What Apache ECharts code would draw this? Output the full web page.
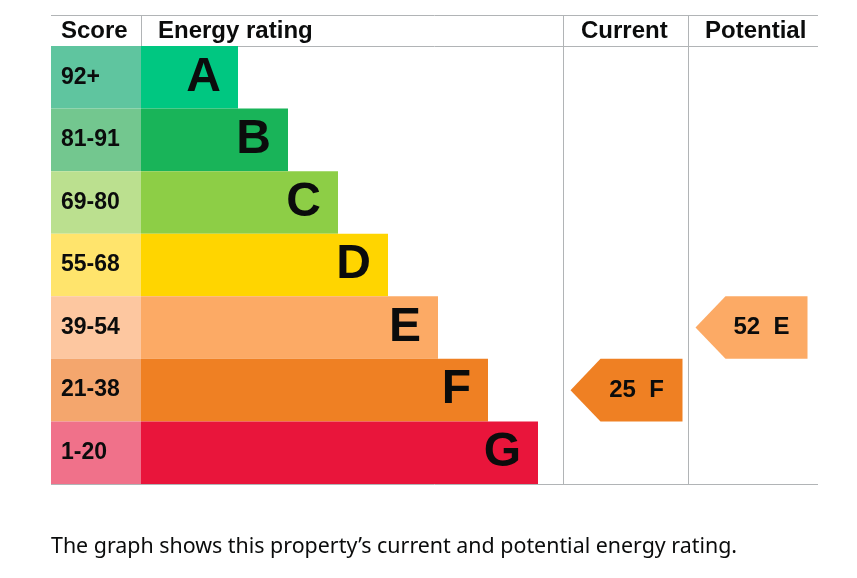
<!DOCTYPE html>
<html>
<head>
<meta charset="utf-8">
<script src="https://cdn.jsdelivr.net/npm/echarts@6/dist/echarts.min.js"></script>
<style>
html,body{margin:0;padding:0;background:#fff;}
#chart{width:857px;height:578px;}
</style>
</head>
<body>
<div id="chart"></div>
<script>
// ---- data ----
const bands = ['A', 'B', 'C', 'D', 'E', 'F', 'G'];
const scoreRanges = ['92+', '81-91', '69-80', '55-68', '39-54', '21-38', '1-20'];
const barLengths = [2, 3, 4, 5, 6, 7, 8];
const bandColors = ['#00c781', '#19b459', '#8dce46', '#ffd500', '#fcaa65', '#ef8023', '#e9153b'];
const scoreColors = ['#5fc59f', '#73c78f', '#bbe08f', '#ffe46c', '#fdc7a0', '#f4a66d', '#f0718a'];
const headers = ['Score', 'Energy rating', 'Current', 'Potential'];
const currentScore = 25, currentBand = 'F';
const potentialScore = 52, potentialBand = 'E';
const caption = 'The graph shows this property\u2019s current and potential energy rating.';

const TXT = '#0b0c0c';
const LINE = '#b1b4b6';
const FONT = '"Liberation Sans", Arial, sans-serif';

const chart = echarts.init(document.getElementById('chart'), null, {renderer: 'canvas'});

const gridTop = 46, gridBottom = 578 - 484;
function catY(idx) {
  return {type: 'category', data: bands, inverse: true, gridIndex: idx, show: false};
}
function valX(idx, min, max) {
  return {type: 'value', min: min, max: max, gridIndex: idx, show: false};
}

function arrowItem(params, api) {
  const c = api.coord([0, api.value(1)]);
  const h = api.size([0, 1])[1];
  const x0 = params.coordSys.x + 7.5;
  const w = 112, tip = 30;
  const cy = c[1];
  const y0 = cy - h / 2, y1 = cy + h / 2;
  const col = bandColors[api.value(1)];
  return {
    type: 'group',
    children: [
      {type: 'polygon', shape: {points: [[x0, cy], [x0 + tip, y0], [x0 + w, y0], [x0 + w, y1], [x0 + tip, y1]]},
       style: {fill: col}},
      {type: 'text', x: x0 + 66, y: cy,
       style: {text: api.value(2) + '  ' + bands[api.value(1)], fill: TXT, font: 'bold 24px ' + FONT,
               align: 'center', verticalAlign: 'middle'}}
    ]
  };
}

const lines = [
  [51, 15.5, 818, 15.5],
  [51, 46.5, 818, 46.5],
  [141.5, 15, 141.5, 46],
  [563.5, 15, 563.5, 484],
  [688.5, 15, 688.5, 484],
  [51, 484.5, 818, 484.5]
];
const headerX = [61, 158, 581, 705];

const graphics = lines.map(l => ({
  type: 'line', shape: {x1: l[0], y1: l[1], x2: l[2], y2: l[3]},
  style: {stroke: LINE, lineWidth: 1}, z: 0, silent: true
}));
headers.forEach((h, i) => graphics.push({
  type: 'text', x: headerX[i], y: 31,
  style: {text: h, fill: TXT, font: 'bold 24px ' + FONT, verticalAlign: 'middle'}
}));
graphics.push({
  type: 'text', x: 51, y: 547,
  style: {text: caption, fill: TXT, font: '21.4px "Noto Sans", sans-serif', verticalAlign: 'middle'}
});

const option = {
  animation: false,
  backgroundColor: '#fff',
  grid: [
    {left: 51, width: 90, top: gridTop, bottom: gridBottom},
    {left: 141, width: 422, top: gridTop, bottom: gridBottom},
    {left: 563, width: 125, top: gridTop, bottom: gridBottom},
    {left: 688, width: 130, top: gridTop, bottom: gridBottom}
  ],
  xAxis: [valX(0, 0, 1), valX(1, 0.06, 8.5), valX(2, 0, 1), valX(3, 0, 1)],
  yAxis: [catY(0), catY(1), catY(2), catY(3)],
  graphic: graphics,
  series: [
    {
      type: 'bar', xAxisIndex: 0, yAxisIndex: 0, barCategoryGap: 0, barWidth: '100%',
      data: scoreRanges.map((s, i) => ({value: 1, name: s, itemStyle: {color: scoreColors[i]}})),
      label: {show: true, position: 'insideLeft', distance: 10, formatter: p => scoreRanges[p.dataIndex],
              color: TXT, fontFamily: FONT, fontWeight: 'bold', fontSize: 23}
    },
    {
      type: 'bar', xAxisIndex: 1, yAxisIndex: 1, barCategoryGap: 0, barWidth: '100%',
      data: barLengths.map((v, i) => ({value: v, itemStyle: {color: bandColors[i]}})),
      label: {show: true, position: 'insideRight', distance: 17, formatter: p => bands[p.dataIndex],
              color: TXT, fontFamily: FONT, fontWeight: 'bold', fontSize: 48}
    },
    {
      type: 'custom', xAxisIndex: 2, yAxisIndex: 2, renderItem: arrowItem,
      data: [[0, bands.indexOf(currentBand), currentScore]]
    },
    {
      type: 'custom', xAxisIndex: 3, yAxisIndex: 3, renderItem: arrowItem,
      data: [[0, bands.indexOf(potentialBand), potentialScore]]
    }
  ]
};
chart.setOption(option);
</script>
</body>
</html>
